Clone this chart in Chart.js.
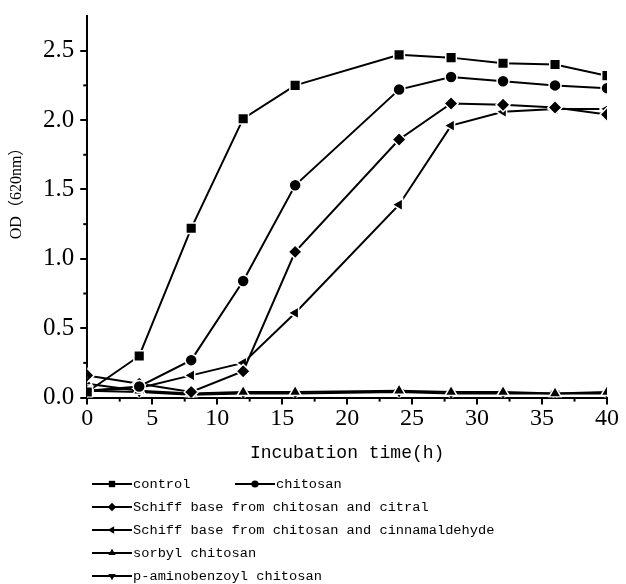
<!DOCTYPE html>
<html>
<head>
<meta charset="utf-8">
<script src="https://cdn.jsdelivr.net/npm/chart.js@4/dist/chart.umd.min.js"></script>
<style>
  html, body { margin: 0; padding: 0; background: #fff; }
  #wrap { width: 626px; height: 584px; }
</style>
</head>
<body>
<div id="wrap"><canvas id="od"></canvas></div>
<script>
// incubation times (h)
const hours = [0, 4, 8, 12, 16, 24, 28, 32, 36, 40];

// OD(620nm) readings
const control = [0.04, 0.30, 1.22, 2.01, 2.25, 2.47, 2.45, 2.41, 2.40, 2.32];
const chitosan = [0.05, 0.08, 0.27, 0.84, 1.53, 2.22, 2.31, 2.28, 2.25, 2.23];
const schiffCitral = [0.16, 0.10, 0.04, 0.19, 1.05, 1.86, 2.12, 2.11, 2.09, 2.04];
const schiffCinnam = [0.05, 0.07, 0.16, 0.25, 0.61, 1.39, 1.96, 2.06, 2.08, 2.08];
const sorbyl = [0.10, 0.05, 0.03, 0.04, 0.04, 0.05, 0.04, 0.04, 0.03, 0.04];
const aminobenzoyl = [0.05, 0.04, 0.02, 0.03, 0.03, 0.04, 0.03, 0.03, 0.03, 0.03];

const seriesNames = [
  'control', 'chitosan',
  'Schiff base from chitosan and citral',
  'Schiff base from chitosan and cinnamaldehyde',
  'sorbyl chitosan', 'p-aminobenzoyl chitosan'
];
const seriesValues = [control, chitosan, schiffCitral, schiffCinnam, sorbyl, aminobenzoyl];
const yTitle = 'OD（620nm）';

const markers = [
  { style: 'rect', radius: 7.5, rotation: 0 },
  { style: 'circle', radius: 6, rotation: 0 },
  { style: 'rectRot', radius: 7, rotation: 0 },
  { style: 'triangle', radius: 7, rotation: -90 },
  { style: 'triangle', radius: 7, rotation: 0 },
  { style: 'triangle', radius: 7, rotation: 180 }
];

const datasets = seriesNames.map((name, i) => ({
  label: name,
  data: hours.map((h, j) => ({ x: h, y: seriesValues[i][j] })),
  borderColor: '#000',
  borderWidth: 2,
  backgroundColor: '#000',
  pointStyle: markers[i].style,
  pointRadius: markers[i].radius,
  pointRotation: markers[i].rotation,
  pointBackgroundColor: '#000',
  pointBorderColor: '#fff',
  pointBorderWidth: 1.5,
  tension: 0
}));

// short minor ticks between labelled ones + the y title (sits above centre in the original)
const axisExtras = {
  id: 'axisExtras',
  afterDraw(chart) {
    const ctx = chart.ctx;
    const xs = chart.scales.x, ys = chart.scales.y;
    ctx.save();
    ctx.strokeStyle = '#000';
    ctx.lineWidth = 2;
    for (let v = 2.5; v < 40; v += 5) {
      const px = xs.getPixelForValue(v);
      ctx.beginPath();
      ctx.moveTo(px, xs.top);
      ctx.lineTo(px, xs.top + 4);
      ctx.stroke();
    }
    for (let v = 0.25; v < 2.75; v += 0.5) {
      const py = ys.getPixelForValue(v);
      ctx.beginPath();
      ctx.moveTo(ys.right, py);
      ctx.lineTo(ys.right - 4, py);
      ctx.stroke();
    }
    ctx.translate(17, ys.getPixelForValue(1.5));
    ctx.rotate(-Math.PI / 2);
    ctx.font = '16px "Liberation Serif", "Noto Sans CJK SC", serif';
    ctx.fillStyle = '#000';
    ctx.textAlign = 'center';
    ctx.textBaseline = 'middle';
    ctx.fillText(yTitle, 0, 0);
    ctx.restore();
  }
};

// legend laid out below the plot like the original
const legendRows = [
  [{ i: 0, x: 92 }, { i: 1, x: 235 }],
  [{ i: 2, x: 92 }],
  [{ i: 3, x: 92 }],
  [{ i: 4, x: 92 }],
  [{ i: 5, x: 92 }]
];
const legendTop = 484;
const legendStep = 23;

const bottomLegend = {
  id: 'bottomLegend',
  afterDraw(chart) {
    const ctx = chart.ctx;
    ctx.save();
    ctx.font = '13.7px "Liberation Mono", "DejaVu Sans Mono", monospace';
    ctx.textBaseline = 'middle';
    legendRows.forEach((row, r) => {
      const y = legendTop + r * legendStep;
      row.forEach(item => {
        const m = markers[item.i];
        ctx.strokeStyle = '#000';
        ctx.lineWidth = 2;
        ctx.beginPath();
        ctx.moveTo(item.x, y);
        ctx.lineTo(item.x + 40, y);
        ctx.stroke();
        ctx.fillStyle = '#000';
        Chart.helpers.drawPoint(ctx, {
          pointStyle: m.style, radius: m.radius * 0.6, rotation: m.rotation, borderWidth: 0
        }, item.x + 20, y);
        ctx.fillStyle = '#000';
        ctx.fillText(seriesNames[item.i], item.x + 41, y);
      });
    });
    ctx.restore();
  }
};

new Chart(document.getElementById('od'), {
  type: 'line',
  data: { datasets },
  plugins: [axisExtras, bottomLegend],
  options: {
    responsive: true,
    maintainAspectRatio: false,
    animation: false,
    layout: { padding: { left: 37, right: 19, top: 2, bottom: 120 } },
    plugins: {
      legend: { display: false },
      tooltip: { enabled: false }
    },
    scales: {
      x: {
        type: 'linear',
        min: 0,
        max: 40,
        border: { color: '#000', width: 2 },
        grid: { drawOnChartArea: false, color: '#000', lineWidth: 2, tickLength: 7 },
        ticks: {
          stepSize: 5,
          color: '#000',
          padding: 0,
          maxRotation: 0,
          font: { family: '"Liberation Serif", "Times New Roman", serif', size: 24 }
        },
        title: {
          display: true,
          text: 'Incubation time(h)',
          color: '#000',
          padding: { top: 9, bottom: 0 },
          font: { family: '"Liberation Mono", "DejaVu Sans Mono", monospace', size: 18 }
        }
      },
      y: {
        min: 0,
        max: 2.75,
        border: { color: '#000', width: 2 },
        grid: { drawOnChartArea: false, color: '#000', lineWidth: 2, tickLength: 7 },
        ticks: {
          stepSize: 0.5,
          includeBounds: false,
          color: '#000',
          padding: 6,
          callback: v => v.toFixed(1),
          font: { family: '"Liberation Serif", "Times New Roman", serif', size: 25, lineHeight: 0.8 }
        }
      }
    }
  }
});
</script>
</body>
</html>
